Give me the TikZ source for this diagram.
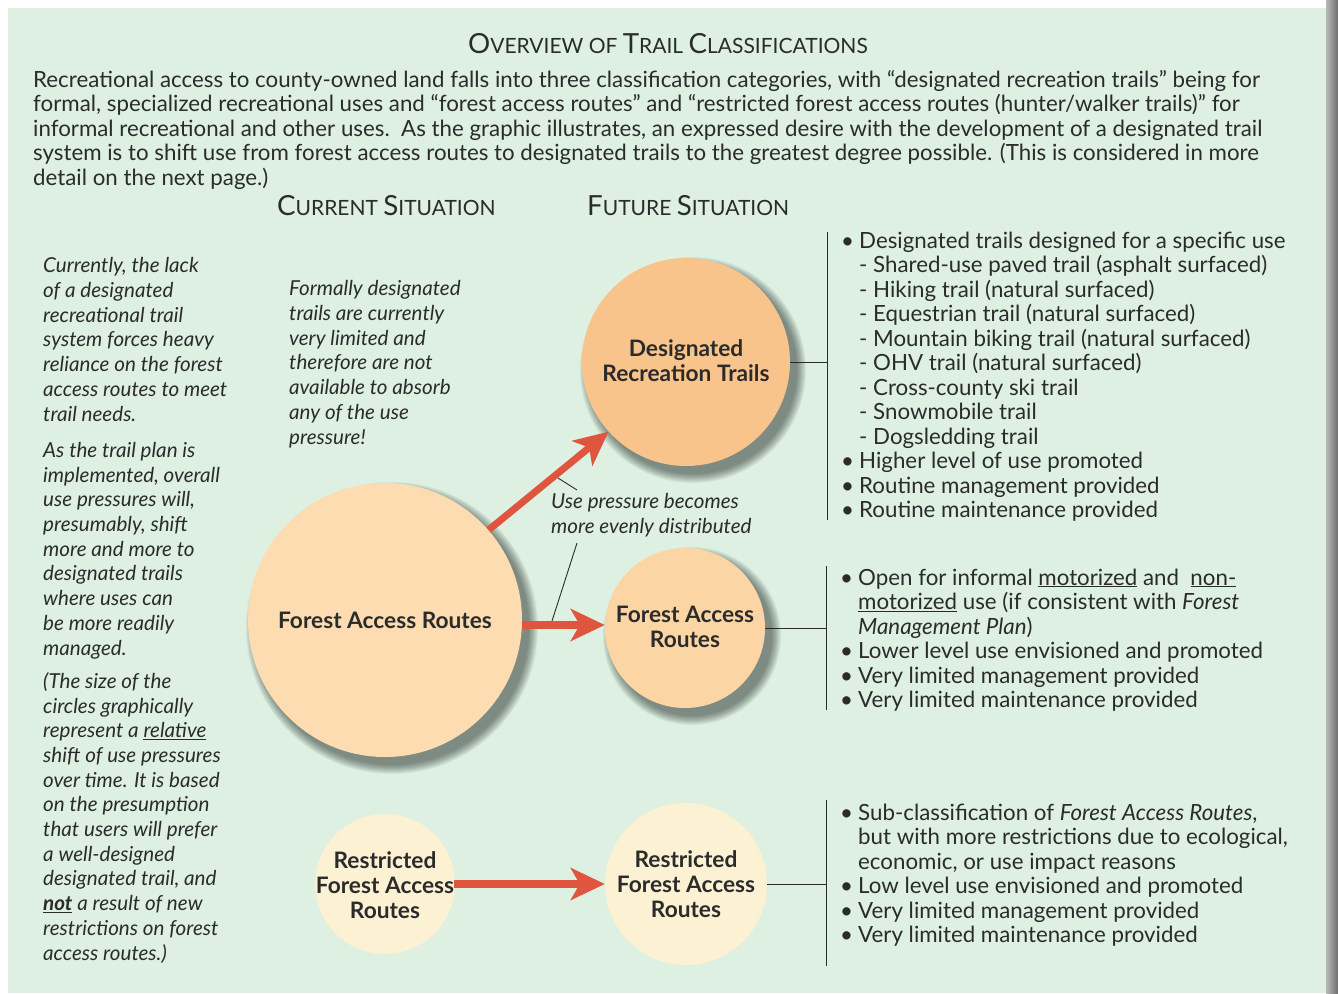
\documentclass[tikz,border=0pt]{standalone}
\usepackage{fontspec}
\setmainfont{Lato}
\usetikzlibrary{arrows.meta}
\definecolor{paper}{HTML}{DDF0E2}
\definecolor{ink}{HTML}{2B2B2B}
\definecolor{drtfill}{HTML}{F8C48C}
\definecolor{farfill}{HTML}{FCDCB0}
\definecolor{ffarfill}{HTML}{FBD6A4}
\definecolor{rfarfill}{HTML}{FDF1D3}
\definecolor{pushred}{HTML}{E0553D}
\newcommand\capA[1]{{\fontsize{27.7}{28}\selectfont #1}}
\newcommand\capB[1]{{\fontsize{21}{21}\selectfont #1}}
\newcommand\bul{\makebox[18pt][l]{\textbullet}}
\newcommand\ind{\hspace*{18pt}}
\newcommand\circshadow[2]{%
  \foreach \k in {1,...,10}{%
    \fill[black,opacity=0.05,shift={(7,8)}] (#1) circle[radius={(#2+10-\k)*1pt}];}}
\begin{document}
\begin{tikzpicture}[x=1pt,y=-1pt,
  body/.style={font=\fontsize{22.3}{24.5}\selectfont, anchor=base west, align=left, inner sep=0pt, text=ink},
  note/.style={font=\fontsize{20.6}{24.7}\selectfont\itshape, anchor=base west, align=left, inner sep=0pt, text=ink},
  head/.style={anchor=base west, inner sep=0pt, text=ink},
  circ/.style={circle, inner sep=0pt, draw=none},
  ctext/.style={font=\fontsize{22.7}{25}\selectfont\bfseries, align=center, inner sep=0pt, text=ink},
  push/.style={draw=pushred, line width=8pt, -{Stealth[length=34pt,width=32pt,inset=9pt]}},
  pointer/.style={draw=ink, line width=0.9pt},
  bracket/.style={draw=ink, line width=0.9pt}]
\useasboundingbox (0,0) rectangle (1338,993);
% page
\fill[white] (0,0) rectangle (1338,993);
\fill[paper] (8,8) rectangle (1326,993);
\shade[left color=gray!55, right color=gray!85!black] (1326,0) rectangle (1338,993);

% headings and introduction (multi-line nodes sit on their last baseline)
\node[anchor=base, inner sep=0pt, text=ink] (title) at (668,53)
  {\capA{O}\capB{VERVIEW OF }\capA{T}\capB{RAIL }\capA{C}\capB{LASSIFICATIONS}};
\node[body] (intro) at (33,185) {Recreational access to county-owned land falls into three classification categories, with “designated recreation trails” being for\\
formal, specialized recreational uses and “forest access routes” and “restricted forest access routes (hunter/walker trails)” for\\
informal recreational and other uses.\ \ As the graphic illustrates, an expressed desire with the development of a designated trail\\
system is to shift use from forest access routes to designated trails to the greatest degree possible. (This is considered in more\\
detail on the next page.)};
\node[head] (cur) at (277,215) {\capA{C}\capB{URRENT }\capA{S}\capB{ITUATION}};
\node[head] (fut) at (587,215) {\capA{F}\capB{UTURE }\capA{S}\capB{ITUATION}};

% side notes
\node[note] (n1) at (43,421) {Currently, the lack\\of a designated\\recreational trail\\system forces heavy\\reliance on the forest\\access routes to meet\\trail needs.};
\node[note] (n2) at (43,655) {As the trail plan is\\implemented, overall\\use pressures will,\\presumably, shift\\more and more to\\designated trails\\where uses can\\be more readily\\managed.};
\node[note] (n3) at (43,960) {(The size of the\\circles graphically\\represent a \underline{relative}\\shift of use pressures\\over time. It is based\\on the presumption\\that users will prefer\\a well-designed\\designated trail, and\\\underline{\textbf{not}} a result of new\\restrictions on forest\\access routes.)};
\node[note] (n4) at (289,444) {Formally designated\\trails are currently\\very limited and\\therefore are not\\available to absorb\\any of the use\\pressure!};
\node[note] (usep) at (551,533) {Use pressure becomes\\more evenly distributed};

% shadows
\circshadow{385,620}{137}
\circshadow{686,362}{104}
\circshadow{685,628}{80}

% circles
\node[circ, fill=farfill, minimum size=274pt] (far) at (385,620) {};
\node[circ, fill=drtfill, minimum size=208pt] (drt) at (686,362) {};
\node[circ, fill=ffarfill, minimum size=160pt] (ffar) at (685,628) {};
\node[circ, fill=rfarfill, minimum size=140pt] (rfar) at (385,884) {};
\node[circ, fill=rfarfill, minimum size=162pt] (rfar2) at (686,884) {};

\node[ctext] (farT) at (far) {Forest Access Routes};
\node[ctext] (drtT) at ([yshift=1]drt) {Designated\\Recreation Trails};
\node[ctext] (ffarT) at ([yshift=1]ffar) {Forest Access\\Routes};
\node[ctext] (rfarT) at ([yshift=-1]rfar) {Restricted\\Forest Access\\Routes};
\node[ctext] (rfar2T) at (rfar2) {Restricted\\Forest Access\\Routes};

% shifts of use pressure
\draw[push, line width=7pt] (far.41) -- (drt.222);
\draw[push] (far.east |- 0,625) -- (ffar.west |- 0,625);
\draw[push] (rfarT.east |- 0,884) -- (rfar2.west);

% label pointers
\coordinate (pa1) at (577,490);
\coordinate (pa2) at (558,478);
\coordinate (pb1) at (577,543);
\coordinate (pb2) at (552,621);
\draw[pointer] (pa1) -- (pa2);
\draw[pointer] (pb1) -- (pb2);

% brackets to the descriptions
\coordinate (b1t) at (827,232); \coordinate (b1b) at (827,520); \coordinate (b1m) at (827,362);
\coordinate (b2t) at (826,566); \coordinate (b2b) at (826,710); \coordinate (b2m) at (826,628);
\coordinate (b3t) at (826,800); \coordinate (b3b) at (826,966); \coordinate (b3m) at (826,884);
\draw[bracket] (b1t) -- (b1b); \draw[bracket] (drt.east) -- (b1m);
\draw[bracket] (b2t) -- (b2b); \draw[bracket] (ffar.east) -- (b2m);
\draw[bracket] (b3t) -- (b3b); \draw[bracket] (rfar2.east) -- (b3m);

% descriptions
\node[body] (d1) at (841,517.5) {\bul Designated trails designed for a specific use\\
\ind - Shared-use paved trail (asphalt surfaced)\\
\ind - Hiking trail (natural surfaced)\\
\ind - Equestrian trail (natural surfaced)\\
\ind - Mountain biking trail (natural surfaced)\\
\ind - OHV trail (natural surfaced)\\
\ind - Cross-county ski trail\\
\ind - Snowmobile trail\\
\ind - Dogsledding trail\\
\bul Higher level of use promoted\\
\bul Routine management provided\\
\bul Routine maintenance provided};
\node[body] (d2) at (840,707.5) {\bul Open for informal \underline{motorized} and\ \ \underline{non-}\\
\ind\underline{motorized} use (if consistent with \textit{Forest}\\
\ind\textit{Management Plan})\\
\bul Lower level use envisioned and promoted\\
\bul Very limited management provided\\
\bul Very limited maintenance provided};
\node[body] (d3) at (840,942.5) {\bul Sub-classification of \textit{Forest Access Routes},\\
\ind but with more restrictions due to ecological,\\
\ind economic, or use impact reasons\\
\bul Low level use envisioned and promoted\\
\bul Very limited management provided\\
\bul Very limited maintenance provided};
\end{tikzpicture}
\end{document}
